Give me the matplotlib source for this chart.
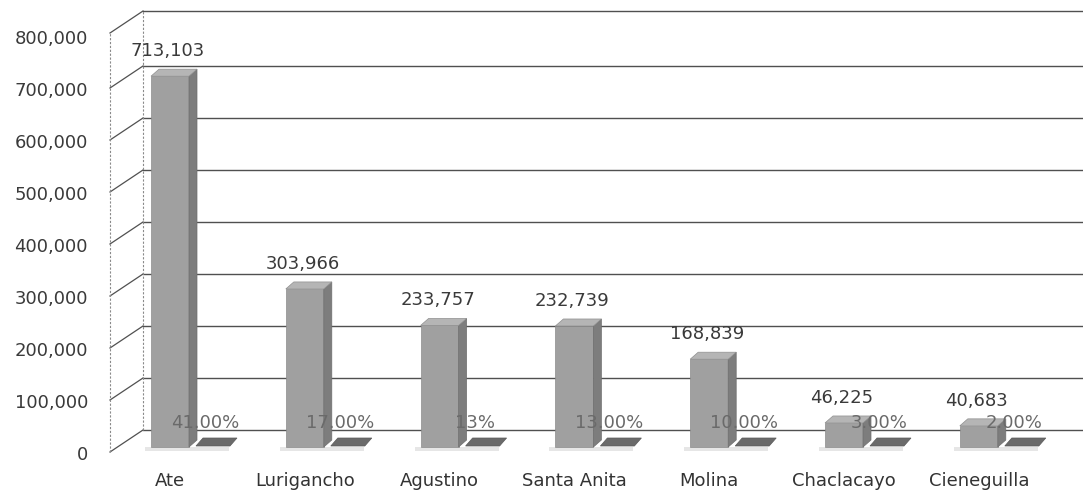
import matplotlib
matplotlib.use("Agg")
import matplotlib.pyplot as plt
from matplotlib.patches import Polygon

# data
districts = ["Ate", "Lurigancho", "Agustino", "Santa Anita", "Molina",
             "Chaclacayo", "Cieneguilla"]
population = [713103, 303966, 233757, 232739, 168839, 46225, 40683]
pct_labels = ["41.00%", "17.00%", "13%", "13.00%", "10.00%", "3.00%", "2.00%"]
y_ticks = [0, 100000, 200000, 300000, 400000, 500000, 600000, 700000, 800000]

plt.rcParams["font.family"] = ["DejaVu Sans"]
FS = 13

W, H = 1083, 494
fig = plt.figure(figsize=(W / 100, H / 100), dpi=100)
ax = fig.add_axes([0, 0, 1, 1])

# pixel scale of the fake 3d view
PX_X = 134.8      # px per category
PX_V = 0.00052    # px per unit of population
X0, BASE = 170, 447

def dx(px):
    return px / PX_X

def dv(px):
    return px / PX_V

ax.set_xlim(-X0 / PX_X, (W - X0) / PX_X)
ax.set_ylim(-(H - BASE) / PX_V, BASE / PX_V)
ax.axis("off")

grid_c = "#505050"
wall_c = "#8a8a8a"
x_front, x_back = dx(-60), dx(-27)
right = (W - X0) / PX_X

# walls and gridlines
for k in y_ticks:
    vf = k - dv(5)
    vb = k + dv(17)
    top = dv(3) if k == y_ticks[-1] else 0
    ax.plot([x_back, right], [vb + top, vb + top], color=grid_c, lw=1.0,
            zorder=1)
    ax.plot([x_front, x_back], [vf + top, vb + top], color=grid_c, lw=0.9,
            zorder=1)
    ax.text(dx(-82), vf - dv(3), f"{k:,}", ha="right", va="center",
            fontsize=FS, color="#3a3a3a")
ax.plot([x_front, x_front], [-dv(5), y_ticks[-1] - dv(2)], color=wall_c,
        lw=0.8, ls=(0, (2, 1.5)), zorder=1)
ax.plot([x_back, x_back], [dv(17), y_ticks[-1] + dv(20)], color=wall_c,
        lw=0.8, ls=(0, (2, 1.5)), zorder=1)

# columns
bw = dx(38)
ddx, ddv = dx(8), dv(7)
for i, (name, val, pl) in enumerate(zip(districts, population, pct_labels)):
    xl = i - bw / 2
    xr = i + bw / 2
    # floor shadow
    ax.add_patch(Polygon([(xl - dx(6), -dv(4)), (xr + dx(40), -dv(4)),
                          (xr + dx(40), dv(0)), (xl - dx(6), dv(0))],
                         closed=True, fc="#e6e6e6", ec="none", zorder=2))
    # percentage slab lying on the floor
    ax.add_patch(Polygon([(xr + dx(7), dv(1)), (xr + dx(41), dv(1)),
                          (xr + dx(48), dv(9)), (xr + dx(14), dv(9))],
                         closed=True, fc="#6a6a6a", ec="#5a5a5a", lw=0.5,
                         zorder=3))
    ax.bar(i, val, width=bw, color="#a0a0a0", edgecolor="#8c8c8c", lw=0.5,
           zorder=4)
    ax.add_patch(Polygon([(xr, 0), (xr + ddx, ddv), (xr + ddx, val + ddv),
                          (xr, val)], closed=True, fc="#7d7d7d",
                         ec="#6e6e6e", lw=0.5, zorder=4))
    ax.add_patch(Polygon([(xl, val), (xr, val), (xr + ddx, val + ddv),
                          (xl + ddx, val + ddv)], closed=True, fc="#b5b5b5",
                         ec="#909090", lw=0.5, zorder=4))
    ax.text(i - dx(2), val + dv(25), f"{val:,}", ha="center", va="center",
            fontsize=FS, color="#3a3a3a", zorder=6)
    ax.text(i + dx(35), dv(24), pl, ha="center", va="center",
            fontsize=FS, color="#6a6a6a", zorder=6)
    ax.text(i, -dv(34), name, ha="center", va="center", fontsize=FS,
            color="#333333", zorder=6)

fig.savefig("out.png", dpi=100, facecolor="white")
